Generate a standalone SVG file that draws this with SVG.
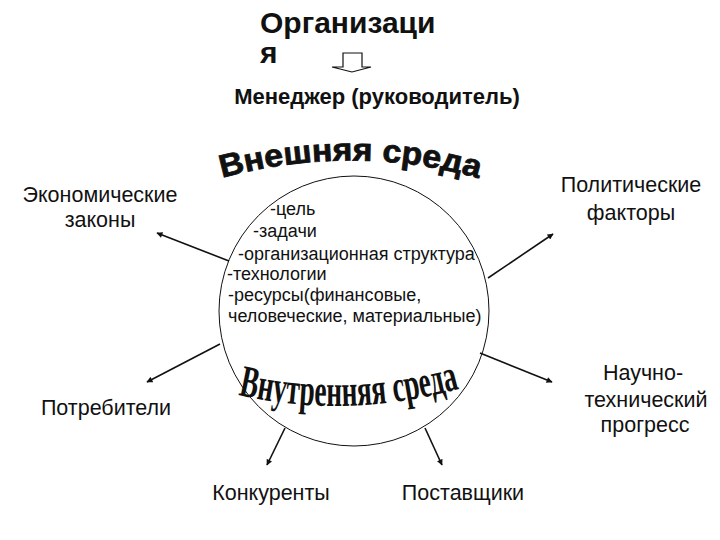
<svg xmlns="http://www.w3.org/2000/svg" width="720" height="540" viewBox="0 0 720 540">
<style>
.lbl{font-family:"Liberation Sans",Arial,sans-serif;font-size:21.5px;fill:#111;text-anchor:middle}
.lst{font-family:"Liberation Sans",Arial,sans-serif;font-size:18px;fill:#111}
.ttl{font-family:"Liberation Sans",Arial,sans-serif;font-weight:bold;fill:#111}
.con{stroke:#111;stroke-width:1.6;fill:none;marker-end:url(#ah)}
</style>
<defs>
<marker id="ah" viewBox="0 0 10 10" refX="9" refY="5" markerWidth="7" markerHeight="6" orient="auto" markerUnits="userSpaceOnUse"><path d="M0,0 L10,5 L0,10 z" fill="#111"/></marker>
<path id="arcOut" d="M 222,178 Q 355,142 484,180"/>
<path id="arcIn" d="M 238,395 Q 348,420 462,388"/>
</defs>
<rect width="720" height="540" fill="#fff"/>
<g id="title">
<text class="ttl" x="260" y="33" font-size="30">Организаци</text>
<text class="ttl" x="260" y="63" font-size="30">я</text>
<polygon points="343,53 362,53 362,67 371,67 352,72 332,67 343,67" fill="#fff" stroke="#111" stroke-width="1.2"/>
</g>
<g id="manager"><text class="ttl" x="377" y="104" font-size="22" text-anchor="middle">Менеджер (руководитель)</text></g>
<g id="org-circle">
<circle cx="354" cy="311" r="135" fill="none" stroke="#111" stroke-width="1"/>
<text font-family="'Liberation Sans',Arial,sans-serif" font-weight="bold" font-size="32" fill="#111" stroke="#111" stroke-width="0.8"><textPath href="#arcOut" textLength="260" lengthAdjust="spacingAndGlyphs">Внешняя среда</textPath></text>
<text font-family="'Liberation Serif','Times New Roman',serif" font-weight="bold" font-size="45" fill="#111"><textPath href="#arcIn" textLength="224" lengthAdjust="spacingAndGlyphs">Внутренняя среда</textPath></text>
<text class="lst" x="270" y="215">-цель</text>
<text class="lst" x="253" y="237">-задачи</text>
<text class="lst" x="238" y="260">-организационная структура</text>
<text class="lst" x="227" y="280">-технологии</text>
<text class="lst" x="228" y="301">-ресурсы(финансовые,</text>
<text class="lst" x="228" y="322">человеческие, материальные)</text>
</g>
<g id="connectors">
<line class="con" x1="229" y1="261" x2="157" y2="233"/>
<line class="con" x1="220" y1="344" x2="147" y2="382"/>
<line class="con" x1="488" y1="278" x2="553" y2="234"/>
<line class="con" x1="480" y1="353" x2="552" y2="382"/>
<line class="con" x1="285" y1="428" x2="267" y2="465"/>
<line class="con" x1="425" y1="428" x2="442" y2="465"/>
</g>
<g id="econ"><text class="lbl" x="100" y="202">Экономические</text><text class="lbl" x="100" y="227">законы</text></g>
<g id="consumers"><text class="lbl" x="106" y="415">Потребители</text></g>
<g id="politics"><text class="lbl" x="631" y="192">Политические</text><text class="lbl" x="631" y="220">факторы</text></g>
<g id="progress"><text class="lbl" x="643" y="380">Научно-</text><text class="lbl" x="646" y="407">технический</text><text class="lbl" x="645" y="432">прогресс</text></g>
<g id="competitors"><text class="lbl" x="271" y="500">Конкуренты</text></g>
<g id="suppliers"><text class="lbl" x="463" y="500">Поставщики</text></g>
</svg>
